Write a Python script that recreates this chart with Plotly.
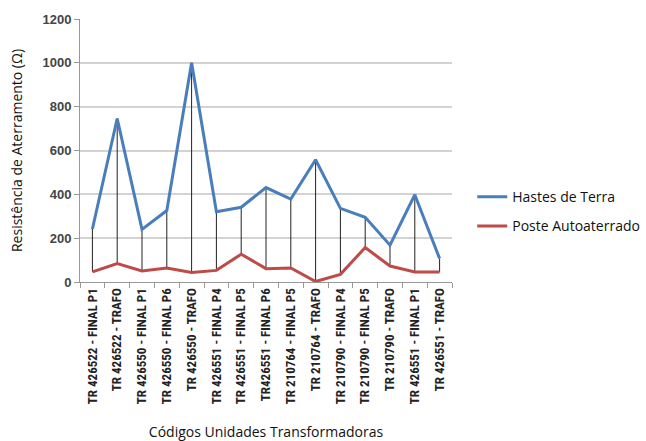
import plotly.graph_objects as go

categories = [
    "TR 426522 - FINAL P1", "TR 426522 - TRAFO", "TR 426550 - FINAL P1",
    "TR 426550 - FINAL P6", "TR 426550 - TRAFO", "TR 426551 - FINAL P4",
    "TR 426551 - FINAL P5", "TR426551 - FINAL P6", "TR 210764 - FINAL P5",
    "TR 210764 - TRAFO", "TR 210790 - FINAL P4", "TR 210790 - FINAL P5",
    "TR 210790 - TRAFO", "TR 426551 - FINAL P1", "TR 426551 - TRAFO",
]
hastes = [242, 746, 240, 326, 1000, 321, 341, 431, 378, 558, 336, 295, 168, 398, 107]
poste = [46, 84, 50, 64, 43, 53, 127, 61, 64, 2, 35, 157, 73, 46, 46]
y_ticks = [0, 200, 400, 600, 800, 1000, 1200]

# high-low connector lines built from the data
hx, hy = [], []
for c, a, b in zip(categories, hastes, poste):
    hx += [c, c, None]
    hy += [a, b, None]

fig = go.Figure()
fig.add_trace(go.Scatter(x=hx, y=hy, mode="lines", line=dict(color="#222222", width=1),
                         showlegend=False, hoverinfo="skip"))
fig.add_trace(go.Scatter(x=categories, y=hastes, mode="lines", name="Hastes de Terra",
                         line=dict(color="#4A7EBB", width=3), legendgroup="a"))
fig.add_trace(go.Scatter(x=categories, y=poste, mode="lines", name="Poste Autoaterrado",
                         line=dict(color="#BE4B48", width=3), legendgroup="b"))

fig.update_layout(
    width=646, height=441,
    margin=dict(l=80, r=194, t=19, b=159),
    paper_bgcolor="white", plot_bgcolor="white",
    font=dict(family="Open Sans, Noto Sans, sans-serif", color="#222222"),
    legend=dict(xref="container", yref="container", x=0.731, y=0.52,
                xanchor="left", yanchor="middle",
                font=dict(size=14, color="#111111"), tracegroupgap=8,
                bgcolor="rgba(0,0,0,0)"),
    xaxis=dict(
        type="category", categoryorder="array", categoryarray=categories,
        range=[-0.5, len(categories) - 0.5], automargin=False,
        tickangle=-90, tickson="boundaries", ticks="outside", ticklen=5,
        tickcolor="#999999", showline=True, linecolor="#999999", linewidth=1,
        showgrid=False,
        tickfont=dict(family="Liberation Sans Narrow, Roboto Condensed, Arial Narrow, Liberation Sans, sans-serif",
                      size=13, color="#222222", weight="bold"),
        title=dict(text="Códigos Unidades Transformadoras", standoff=24,
                   font=dict(size=14, color="#111111")),
    ),
    yaxis=dict(
        range=[0, 1200], tickvals=y_ticks, ticks="outside", ticklen=5,
        automargin=False,
        tickcolor="#999999", showline=True, linecolor="#999999", linewidth=1,
        showgrid=True, gridcolor="#D3D3D3", gridwidth=2, zeroline=False,
        tickfont=dict(family="Liberation Sans, Arial, sans-serif", size=13,
                      color="#444444", weight="bold"),
        title=dict(text="Resistência de Aterramento (Ω)", standoff=16,
                   font=dict(size=14, color="#111111")),
    ),
)

fig.write_html("out.html")
